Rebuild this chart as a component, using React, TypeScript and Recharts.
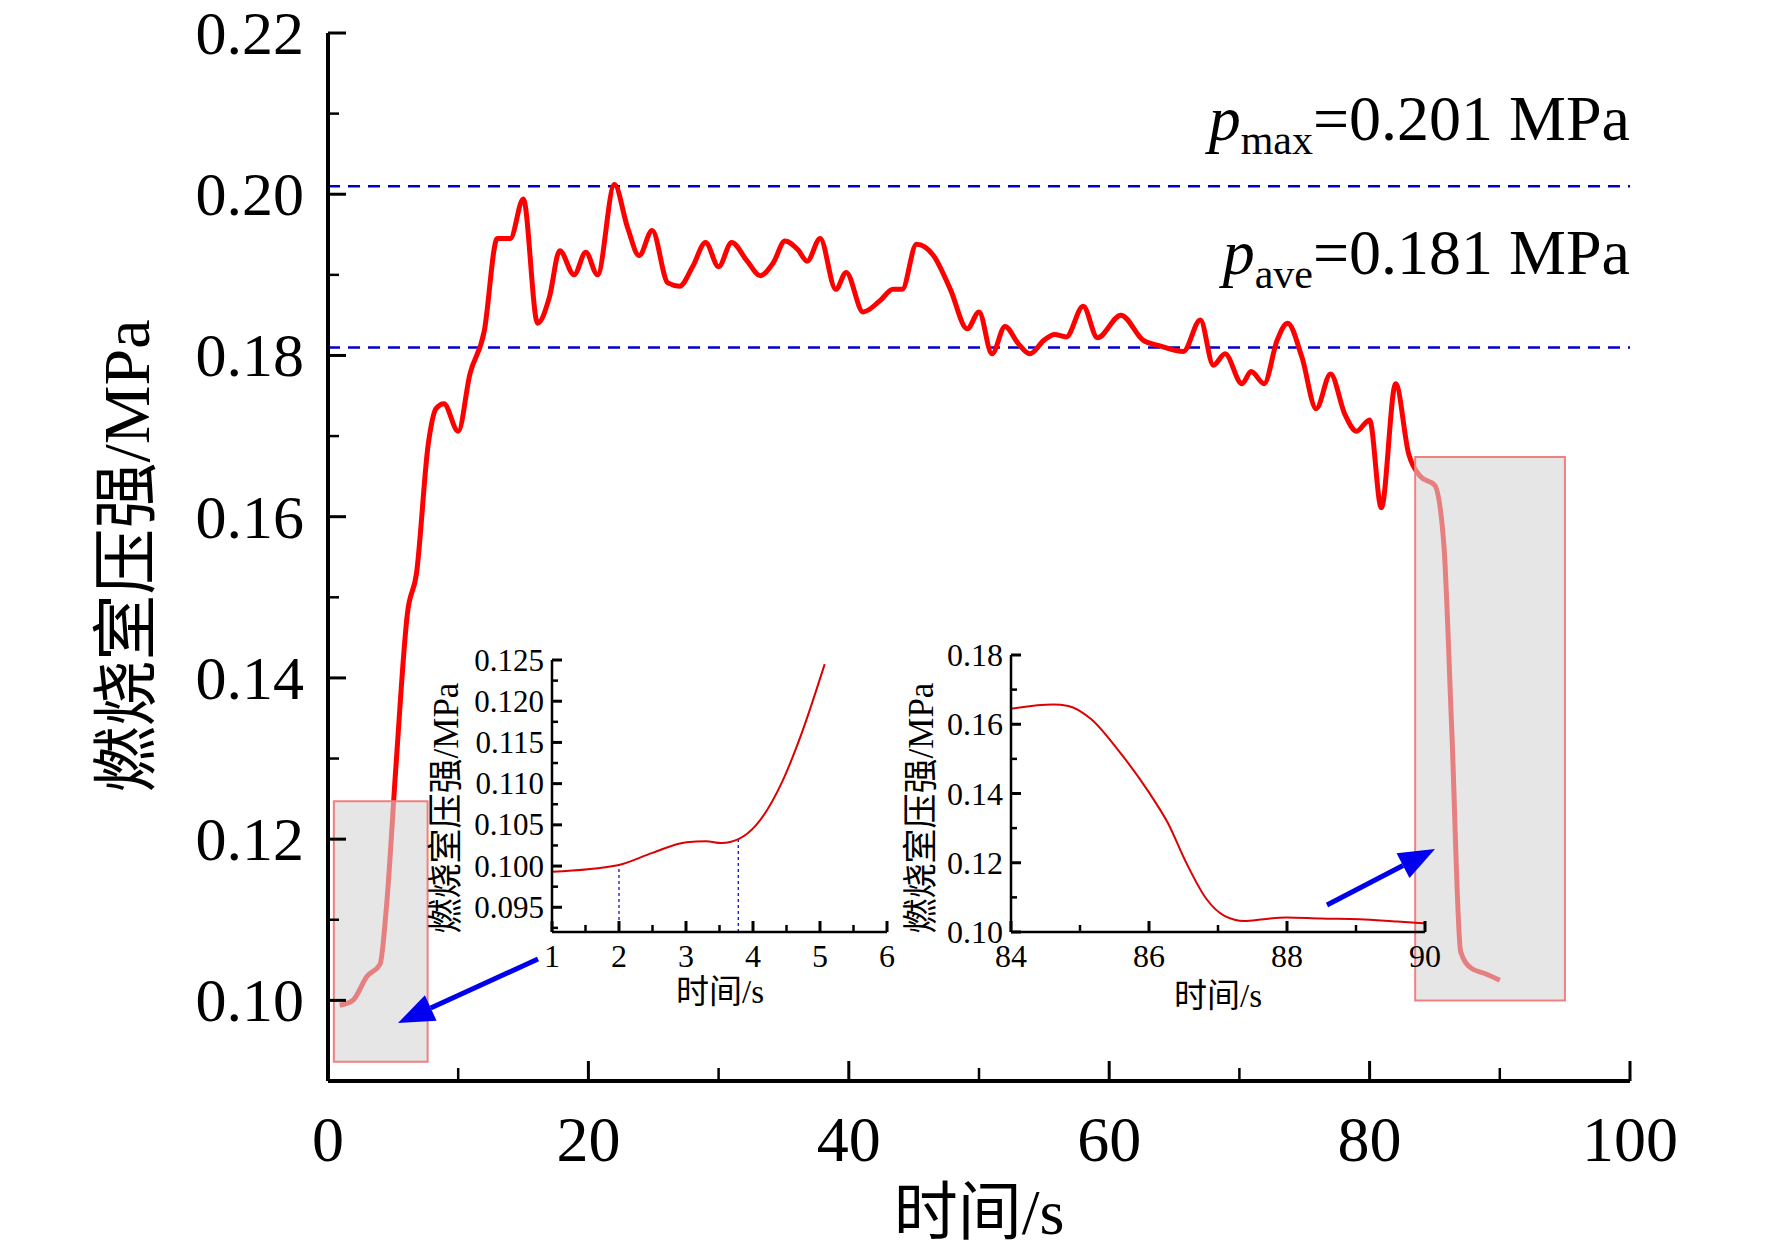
import { LineChart, Line, XAxis, YAxis, ReferenceLine, ReferenceArea } from 'recharts'

const mainTime = [0.9, 1.9, 3, 4, 4.5, 5.2, 6.1, 6.8, 7.7, 8.3, 8.9, 10, 10.9, 12, 13, 14, 15, 16.1, 17, 17.8, 18.9, 19.8, 20.7, 22, 23, 23.9, 24.9, 26.1, 27, 28, 29, 30, 31, 32.2, 33.2, 34.2, 35.1, 36.1, 36.8, 37.8, 39, 39.8, 41.1, 42.4, 43.4, 44.1, 45.2, 46.5, 47.8, 49.1, 50, 51, 52, 53, 53.9, 55, 55.8, 56.7, 58, 59.1, 60.9, 62.6, 63.9, 65.7, 67, 68, 68.9, 70.2, 70.9, 71.9, 72.9, 73.7, 74.8, 75.9, 77, 78.1, 79, 80, 80.9, 82, 83, 83.9, 85, 85.7, 86.3, 87, 87.8, 88.9, 90]
const mainPressure = [0.0994, 0.1, 0.103, 0.1045, 0.1118, 0.1286, 0.148, 0.153, 0.169, 0.1734, 0.174, 0.1706, 0.1777, 0.183, 0.1945, 0.1945, 0.1994, 0.184, 0.1872, 0.193, 0.19, 0.1928, 0.19, 0.2012, 0.1959, 0.1924, 0.1955, 0.189, 0.1886, 0.191, 0.194, 0.191, 0.194, 0.1917, 0.1899, 0.1915, 0.1942, 0.1931, 0.1917, 0.1945, 0.1882, 0.1903, 0.1854, 0.1868, 0.1882, 0.1882, 0.1938, 0.1924, 0.1882, 0.1833, 0.1854, 0.1802, 0.1836, 0.1815, 0.1802, 0.1819, 0.1826, 0.1823, 0.1861, 0.1822, 0.185, 0.1819, 0.1812, 0.1805, 0.1844, 0.1788, 0.1802, 0.1765, 0.178, 0.1765, 0.1819, 0.184, 0.1798, 0.1734, 0.1777, 0.1727, 0.1706, 0.172, 0.1611, 0.1765, 0.1678, 0.165, 0.1639, 0.1566, 0.134, 0.106, 0.104, 0.1033, 0.1025]

const startTime = [1, 1.98, 2.5, 3.01, 3.3, 3.53, 3.79, 4.04, 4.44, 4.73, 5.07]
const startPressure = [0.0993, 0.1001, 0.1016, 0.1029, 0.103, 0.1028, 0.1033, 0.1049, 0.1103, 0.1162, 0.1245]

const endTime = [84, 84.61, 84.83, 85.16, 85.55, 85.99, 86.27, 86.55, 86.83, 87.1, 87.38, 87.66, 87.99, 88.49, 89.05, 89.6, 89.99]
const endPressure = [0.1645, 0.1657, 0.1653, 0.1615, 0.1526, 0.1406, 0.1316, 0.1196, 0.1096, 0.1046, 0.1032, 0.1037, 0.1042, 0.1039, 0.1037, 0.103, 0.1025]

const mainYTicks = [0.09, 0.1, 0.11, 0.12, 0.13, 0.14, 0.15, 0.16, 0.17, 0.18, 0.19, 0.2, 0.21, 0.22]
const mainXTicks = [0, 10, 20, 30, 40, 50, 60, 70, 80, 90, 100]
const startYTicks = [0.0925, 0.095, 0.0975, 0.1, 0.1025, 0.105, 0.1075, 0.11, 0.1125, 0.115, 0.1175, 0.12, 0.1225, 0.125]
const startXTicks = [1, 1.5, 2, 2.5, 3, 3.5, 4, 4.5, 5, 5.5, 6]
const endYTicks = [0.1, 0.11, 0.12, 0.13, 0.14, 0.15, 0.16, 0.17, 0.18]
const endXTicks = [84, 85, 86, 87, 88, 89, 90]
const pMax = 0.201
const pAve = 0.181
const startMarks = [2, 3.78]

const mainData = mainTime.map((t, i) => ({ t, p: mainPressure[i] }))
const startData = startTime.map((t, i) => ({ t, p: startPressure[i] }))
const endData = endTime.map((t, i) => ({ t, p: endPressure[i] }))

const FONT = '"Liberation Serif", "Noto Sans CJK SC", serif'

const isMajor = (v: number, step: number, base = 0) => Math.abs(((v - base) / step) - Math.round((v - base) / step)) < 1e-6

function YTick(props: any) {
  const { x, y, payload, step, digits, size, major, minor, skip, gap } = props
  const m = isMajor(payload.value, step)
  const show = m && !(skip && skip(payload.value))
  return (
    <g>
      <line x1={x} x2={x + (m ? major : minor)} y1={y} y2={y} stroke="#000" strokeWidth={m ? 3 : 2.5} />
      {show && (
        <text x={x - gap} y={y} textAnchor="end" dominantBaseline="central" fontSize={size} fontFamily={FONT}>
          {payload.value.toFixed(digits)}
        </text>
      )}
    </g>
  )
}

function XTick(props: any) {
  const { x, y, payload, step, base, size, major, minor, dy } = props
  const m = isMajor(payload.value, step, base)
  return (
    <g>
      <line x1={x} x2={x} y1={y} y2={y - (m ? major : minor)} stroke="#000" strokeWidth={m ? 3 : 2.5} />
      {m && (
        <text x={x} y={y + dy} textAnchor="middle" dominantBaseline="central" fontSize={size} fontFamily={FONT}>
          {payload.value}
        </text>
      )}
    </g>
  )
}

function Arrow({ x1, y1, x2, y2 }: { x1: number; y1: number; x2: number; y2: number }) {
  const a = Math.atan2(y2 - y1, x2 - x1)
  const L = 36
  const W = 14
  const bx = x2 - L * Math.cos(a)
  const by = y2 - L * Math.sin(a)
  const pts = `${x2},${y2} ${bx + W * Math.sin(a)},${by - W * Math.cos(a)} ${bx - W * Math.sin(a)},${by + W * Math.cos(a)}`
  return (
    <g>
      <line x1={x1} y1={y1} x2={bx} y2={by} stroke="#0000ee" strokeWidth={5} />
      <polygon points={pts} fill="#0000ee" />
    </g>
  )
}

export default function App() {
  return (
    <div style={{ position: 'absolute', left: 0, top: 0, width: 1772, height: 1249, background: '#fff', fontFamily: FONT }}>
      <div style={{ position: 'absolute', left: 0, top: 0 }}>
        <LineChart width={1772} height={1249} data={mainData} margin={{ left: 327, right: 142, top: 33, bottom: 138 }}>
          <XAxis
            dataKey="t"
            type="number"
            domain={[0, 100]}
            ticks={mainXTicks}
            interval={0}
            tickSize={0}
            tickMargin={0}
            axisLine={{ stroke: '#000', strokeWidth: 4 }}
            tick={<XTick step={20} base={0} size={64} major={20} minor={13} dy={58} />}
          />
          <YAxis
            type="number"
            domain={[0.09, 0.22]}
            ticks={mainYTicks}
            interval={0}
            width={1}
            tickSize={0}
            tickMargin={0}
            allowDataOverflow
            axisLine={{ stroke: '#000', strokeWidth: 4 }}
            tick={<YTick step={0.02} digits={2} size={62} major={18} minor={11} gap={24} skip={(v: number) => v < 0.095} />}
          />
          <ReferenceLine y={pMax} stroke="#0000cc" strokeWidth={2.5} strokeDasharray="12 8" />
          <ReferenceLine y={pAve} stroke="#0000cc" strokeWidth={2.5} strokeDasharray="12 8" />
          <Line dataKey="p" type="monotone" stroke="#ff0000" strokeWidth={5} dot={false} isAnimationActive={false} />
          <ReferenceArea x1={0.45} x2={7.65} y1={0.0924} y2={0.1247} fill="#d6d6d6" fillOpacity={0.6} stroke="#f08080" strokeWidth={2} zIndex={1000} />
          <ReferenceArea x1={83.5} x2={95} y1={0.1} y2={0.1674} fill="#d6d6d6" fillOpacity={0.6} stroke="#f08080" strokeWidth={2} zIndex={1000} />
        </LineChart>
      </div>

      <div style={{ position: 'absolute', left: 430, top: 626 }}>
        <LineChart width={480} height={420} data={startData} margin={{ left: 121, right: 23, top: 34, bottom: 84 }}>
          <XAxis
            dataKey="t"
            type="number"
            domain={[1, 6]}
            ticks={startXTicks}
            interval={0}
            tickSize={0}
            tickMargin={0}
            axisLine={{ stroke: '#000', strokeWidth: 2.5 }}
            tick={<XTick step={1} base={0} size={32} major={11} minor={7} dy={24} />}
          />
          <YAxis
            type="number"
            domain={[0.092, 0.125]}
            ticks={startYTicks}
            interval={0}
            width={1}
            tickSize={0}
            tickMargin={0}
            allowDataOverflow
            axisLine={{ stroke: '#000', strokeWidth: 2.5 }}
            tick={<YTick step={0.005} digits={3} size={31} major={10} minor={6} gap={8} />}
          />
          {startMarks.map((m, i) => (
            <ReferenceLine key={m} segment={[{ x: m, y: 0.092 }, { x: m, y: startPressure[i === 0 ? 1 : 6] }]} stroke="#0000aa" strokeWidth={1.2} strokeDasharray="3 3" />
          ))}
          <Line dataKey="p" type="monotone" stroke="#dd0000" strokeWidth={2} dot={false} isAnimationActive={false} />
        </LineChart>
      </div>

      <div style={{ position: 'absolute', left: 880, top: 626 }}>
        <LineChart width={580} height={420} data={endData} margin={{ left: 130, right: 35, top: 29, bottom: 84 }}>
          <XAxis
            dataKey="t"
            type="number"
            domain={[84, 90]}
            ticks={endXTicks}
            interval={0}
            tickSize={0}
            tickMargin={0}
            axisLine={{ stroke: '#000', strokeWidth: 2.5 }}
            tick={<XTick step={2} base={84} size={32} major={11} minor={7} dy={24} />}
          />
          <YAxis
            type="number"
            domain={[0.1, 0.18]}
            ticks={endYTicks}
            interval={0}
            width={1}
            tickSize={0}
            tickMargin={0}
            axisLine={{ stroke: '#000', strokeWidth: 2.5 }}
            tick={<YTick step={0.02} digits={2} size={32} major={10} minor={6} gap={8} />}
          />
          <Line dataKey="p" type="monotone" stroke="#dd0000" strokeWidth={2} dot={false} isAnimationActive={false} />
        </LineChart>
      </div>

      <svg width={1772} height={1249} style={{ position: 'absolute', left: 0, top: 0, pointerEvents: 'none' }}>
        <text x={126} y={556} transform="rotate(-90 126 556)" textAnchor="middle" dominantBaseline="central" fontSize={66} fontFamily={FONT}>燃烧室压强/MPa</text>
        <text x={979} y={1212} textAnchor="middle" dominantBaseline="central" fontSize={64} fontFamily={FONT}>时间/s</text>
        <text x={446} y={808} transform="rotate(-90 446 808)" textAnchor="middle" dominantBaseline="central" fontSize={35} fontFamily={FONT}>燃烧室压强/MPa</text>
        <text x={720} y={992} textAnchor="middle" dominantBaseline="central" fontSize={33} fontFamily={FONT}>时间/s</text>
        <text x={921} y={808} transform="rotate(-90 921 808)" textAnchor="middle" dominantBaseline="central" fontSize={35} fontFamily={FONT}>燃烧室压强/MPa</text>
        <text x={1218} y={996} textAnchor="middle" dominantBaseline="central" fontSize={33} fontFamily={FONT}>时间/s</text>
        <text x={1630} y={140} textAnchor="end" fontSize={64} fontFamily={FONT}>
          <tspan fontStyle="italic">p</tspan>
          <tspan fontSize={42} dy={14}>max</tspan>
          <tspan dy={-14}>=0.201 MPa</tspan>
        </text>
        <text x={1630} y={274} textAnchor="end" fontSize={64} fontFamily={FONT}>
          <tspan fontStyle="italic">p</tspan>
          <tspan fontSize={42} dy={14}>ave</tspan>
          <tspan dy={-14}>=0.181 MPa</tspan>
        </text>
        <Arrow x1={538} y1={959} x2={398} y2={1023} />
        <Arrow x1={1327} y1={905} x2={1435} y2={849} />
      </svg>
    </div>
  )
}
